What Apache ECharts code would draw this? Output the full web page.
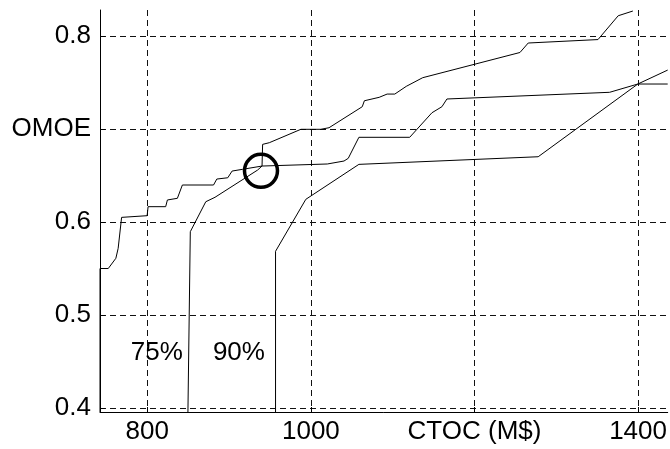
<!DOCTYPE html>
<html>
<head>
<meta charset="utf-8">
<script src="https://cdn.jsdelivr.net/npm/echarts@6/dist/echarts.min.js"></script>
<style>
  html, body { margin: 0; padding: 0; background: #fff; }
  #chart { width: 670px; height: 449px; }
</style>
</head>
<body>
<div id="chart"></div>
<script>
// Axis ranges and ticks
const xRange = [742.2, 1436.2];
const yRange = [0.3957, 0.828];
const xTickValues = [800, 1000, 1200, 1400];
const xTickLabels = ['800', '1000', 'CTOC (M$)', '1400'];
const yTickValues = [0.4, 0.5, 0.6, 0.7, 0.8];
const yTickLabels = ['0.4', '0.5', '0.6', 'OMOE', '0.8'];

// Frontier curves: [CTOC, OMOE]
const frontierBest = [
  [742.2, 0.3957], [742.2, 0.550], [752.3, 0.550], [761.6, 0.561], [764.4, 0.5717],
  [768.6, 0.605], [799.8, 0.6068], [801.0, 0.6165], [822.5, 0.6165], [824.6, 0.6237],
  [836.8, 0.6255], [842.9, 0.6398], [881.0, 0.6398], [885.0, 0.6462], [898.4, 0.6476],
  [903.7, 0.6548], [916.6, 0.6567], [940.3, 0.6602], [941.0, 0.6835], [949.2, 0.6853],
  [987.8, 0.6997], [1012.1, 0.6997], [1022.2, 0.7014], [1062.8, 0.724], [1065.4, 0.7304],
  [1083.5, 0.7341], [1093.2, 0.7376], [1102.6, 0.7376], [1116.6, 0.7459], [1136.7, 0.7552],
  [1255.6, 0.7823], [1265.7, 0.7925], [1351.0, 0.7962], [1375.7, 0.8218], [1393.6, 0.8269]
];
const frontier75 = [
  [849.7, 0.3957], [852.6, 0.5896], [871.5, 0.6218], [882.8, 0.6266], [934.9, 0.6559],
  [940.3, 0.6602], [1020.1, 0.6624], [1040.5, 0.6656], [1045.7, 0.6685], [1058.7, 0.6911],
  [1120.8, 0.6911], [1148.0, 0.7175], [1160.2, 0.724], [1166.3, 0.7323], [1365.2, 0.7395],
  [1399.7, 0.7484], [1436.2, 0.7484]
];
const frontier90 = [
  [956.8, 0.3957], [956.8, 0.5685], [993.8, 0.6244], [1058.7, 0.662], [1277.9, 0.6702],
  [1399.7, 0.7484], [1436.2, 0.7634]
];

// Highlighted design and curve captions
const kneePoint = [939.0, 0.655];
const captions = [
  { text: '75%', pos: [811.6, 0.4591] },
  { text: '90%', pos: [912.0, 0.4591] }
];

const FONT = 'Liberation Sans, Arial, Helvetica, sans-serif';
const gridDash = { type: [6, 4], color: '#111', width: 1 };

function curve(data) {
  return {
    type: 'line',
    data: data,
    showSymbol: false,
    symbol: 'none',
    clip: true,
    lineStyle: { color: '#000', width: 1 },
    z: 3
  };
}

const chart = echarts.init(document.getElementById('chart'), null, { renderer: 'canvas' });
chart.setOption({
  animation: false,
  backgroundColor: '#fff',
  grid: { left: 100, top: 10, width: 570, height: 402 },
  xAxis: {
    type: 'value',
    min: xRange[0],
    max: xRange[1],
    axisLine: { show: true, onZero: false, lineStyle: { color: '#000', width: 1 } },
    axisTick: { show: true, inside: true, length: 5, customValues: xTickValues, lineStyle: { color: '#000' } },
    axisLabel: {
      customValues: xTickValues,
      formatter: v => xTickLabels[xTickValues.indexOf(Math.round(v))] || '',
      color: '#000', fontSize: 26, fontFamily: FONT, margin: 7
    },
    splitLine: { show: true, lineStyle: gridDash }
  },
  yAxis: {
    type: 'value',
    min: yRange[0],
    max: yRange[1],
    axisLine: { show: true, onZero: false, lineStyle: { color: '#000', width: 1 } },
    axisTick: { show: true, inside: true, length: 5, customValues: yTickValues, lineStyle: { color: '#000' } },
    axisLabel: {
      customValues: yTickValues,
      formatter: v => {
        const i = yTickValues.findIndex(t => Math.abs(t - v) < 1e-6);
        return i >= 0 ? yTickLabels[i] : '';
      },
      color: '#000', fontSize: 26, fontFamily: FONT, margin: 9
    },
    splitLine: { show: true, lineStyle: gridDash }
  },
  series: [
    curve(frontierBest),
    curve(frontier75),
    curve(frontier90),
    {
      type: 'scatter',
      data: [kneePoint],
      symbol: 'circle',
      symbolSize: 33,
      itemStyle: { color: 'rgba(0,0,0,0)', borderColor: '#000', borderWidth: 3.5, opacity: 1 },
      emphasis: { disabled: true },
      z: 4
    },
    {
      type: 'scatter',
      data: captions.map(c => ({ value: c.pos, name: c.text })),
      symbolSize: 0,
      itemStyle: { opacity: 1 },
      emphasis: { disabled: true },
      label: {
        show: true,
        position: 'inside',
        formatter: p => p.name,
        color: '#000', fontSize: 26, fontFamily: FONT
      },
      z: 5
    }
  ]
});
</script>
</body>
</html>
